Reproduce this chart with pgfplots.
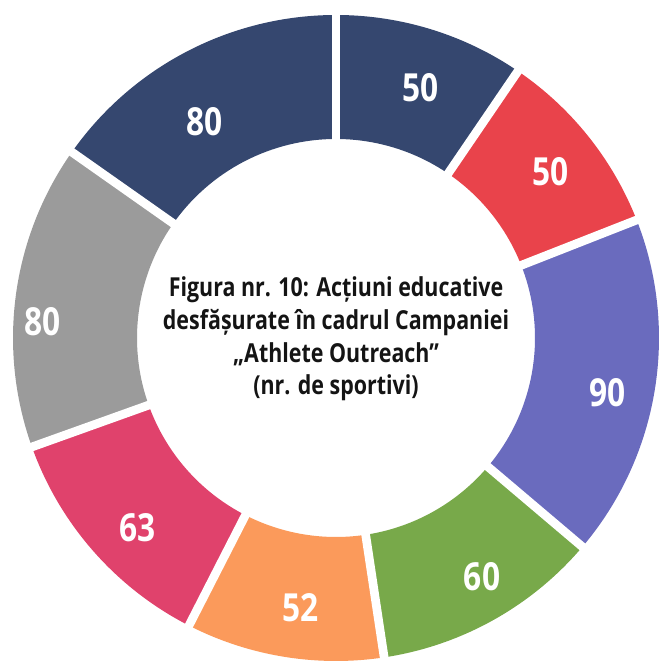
\documentclass[border=0pt]{standalone}
\usepackage{pgfplots}
\usepackage{pgfplotstable}
\usepackage{fontspec}
\pgfplotsset{compat=1.18}
\setmainfont{Open Sans}
\newfontfamily\cond{Open Sans}[FakeStretch=0.82]

\definecolor{seg0}{HTML}{35476F}
\definecolor{seg1}{HTML}{E9434B}
\definecolor{seg2}{HTML}{6A6BBE}
\definecolor{seg3}{HTML}{78A94A}
\definecolor{seg4}{HTML}{FB9A5B}
\definecolor{seg5}{HTML}{E0426C}
\definecolor{seg6}{HTML}{9B9B9B}
\definecolor{seg7}{HTML}{35476F}

% values clockwise from 12 o'clock; lr = label radius, ls = label angle shift
\pgfplotstableread{
value lr  ls
50    264 -1.5
50    271 -0.8
90    277 -2
60    280 2.3
52    272 1.7
63    274 2.4
80    294 4.6
80    253 3.8
}\donut

% cumulative angles
\gdef\total{0}
\pgfplotsforeachungrouped \i in {0,...,7}{%
  \pgfplotstablegetelem{\i}{value}\of\donut
  \pgfmathsetmacro\t{\total+\pgfplotsretval}\xdef\total{\t}}
\gdef\cum{0}
\pgfplotsforeachungrouped \i in {0,...,7}{%
  \pgfplotstablegetelem{\i}{lr}\of\donut
  \expandafter\xdef\csname lr\i\endcsname{\pgfplotsretval}%
  \pgfplotstablegetelem{\i}{ls}\of\donut
  \expandafter\xdef\csname ls\i\endcsname{\pgfplotsretval}%
  \pgfplotstablegetelem{\i}{value}\of\donut
  \expandafter\xdef\csname val\i\endcsname{\pgfplotsretval}%
  \pgfmathsetmacro\a{90-\cum/\total*360}%
  \pgfmathsetmacro\c{\cum+\pgfplotsretval}\xdef\cum{\c}%
  \pgfmathsetmacro\b{90-\cum/\total*360}%
  \expandafter\xdef\csname sa\i\endcsname{\a}%
  \expandafter\xdef\csname ea\i\endcsname{\b}%
  \pgfmathsetmacro\m{(\a+\b)/2+\csname ls\i\endcsname}%
  \expandafter\xdef\csname ma\i\endcsname{\m}}
\newcommand\SA[1]{\csname sa#1\endcsname}
\newcommand\EA[1]{\csname ea#1\endcsname}
\newcommand\MA[1]{\csname ma#1\endcsname}
\newcommand\LR[1]{\csname lr#1\endcsname}
\newcommand\VAL[1]{\csname val#1\endcsname}

\begin{document}
\begin{tikzpicture}
\begin{axis}[
    hide axis,
    x=0.03cm, y=0.03cm,
    xmin=-336, xmax=326,
    ymin=-332, ymax=338,
]
\path (rel axis cs:0,0) rectangle (rel axis cs:1,1);
\pgfplotsinvokeforeach{0,...,7}{
  \fill[seg#1] (axis cs:{323*cos(\SA{#1})},{323*sin(\SA{#1})})
     arc[start angle=\SA{#1}, end angle=\EA{#1}, radius=9.69cm]
     -- (axis cs:{199*cos(\EA{#1})},{199*sin(\EA{#1})})
     arc[start angle=\EA{#1}, end angle=\SA{#1}, radius=5.97cm] -- cycle;
}
\pgfplotsinvokeforeach{0,...,7}{
  \draw[white, line width=0.26cm] (axis cs:{190*cos(\SA{#1})},{190*sin(\SA{#1})})
     -- (axis cs:{335*cos(\SA{#1})},{335*sin(\SA{#1})});
  \node[white, font=\cond\bfseries\fontsize{33}{33}\selectfont]
     at (axis cs:{\LR{#1}*cos(\MA{#1})},{\LR{#1}*sin(\MA{#1})}) {\VAL{#1}};
}
\node[align=center, text=black!92, font=\cond\bfseries\fontsize{22.3}{28}\selectfont]
   at (axis cs:0,-1) {Figura nr. 10: Acțiuni educative\\desfășurate în cadrul Campaniei\\„Athlete Outreach”\\(nr. de sportivi)};
\end{axis}
\end{tikzpicture}
\end{document}
